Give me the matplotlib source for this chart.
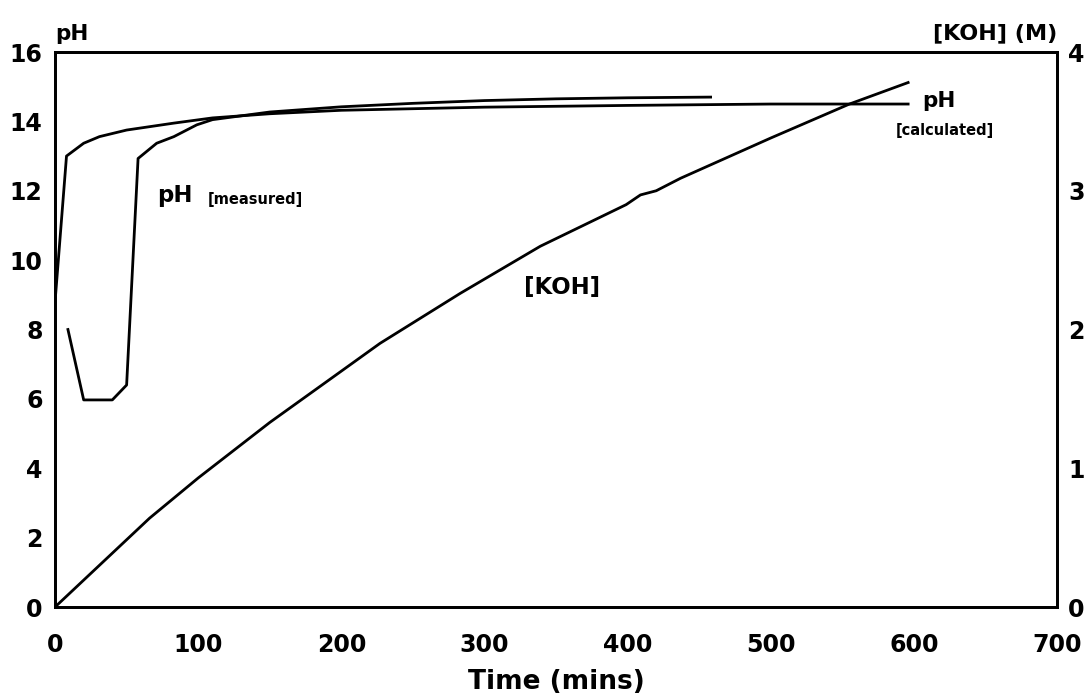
import matplotlib
matplotlib.use("Agg")
import matplotlib.pyplot as plt

plt.rcParams['font.family'] = ['DejaVu Sans']
plt.rcParams['font.weight'] = 'bold'

# pH (calculated) vs time
calc_time = [0, 8, 20, 31, 50, 83, 110, 150, 200, 300, 400, 500, 596]
calc_ph = [8.8, 13.0, 13.37, 13.56, 13.75, 13.95, 14.1, 14.22, 14.32, 14.41, 14.46, 14.5, 14.5]

# pH (measured) vs time
meas_time = [9, 20, 40, 50, 58, 71, 83, 99, 110, 150, 200, 250, 300, 350, 400, 458]
meas_ph = [8.0, 5.97, 5.97, 6.4, 12.93, 13.37, 13.56, 13.9, 14.05, 14.27, 14.42, 14.52, 14.6, 14.65, 14.68, 14.7]

# [KOH] (M) vs time
koh_time = [0, 66, 100, 150, 200, 227, 283, 339, 399, 409, 420, 437, 500, 555, 596]
koh_conc = [0.0, 0.64, 0.93, 1.33, 1.70, 1.90, 2.26, 2.60, 2.90, 2.97, 3.0, 3.09, 3.38, 3.625, 3.78]

x_ticks = [0, 100, 200, 300, 400, 500, 600, 700]
ph_ticks = [0, 2, 4, 6, 8, 10, 12, 14, 16]
koh_ticks = [0, 1, 2, 3, 4]

fig = plt.figure(figsize=(10.88, 6.99), dpi=100)
ax = fig.add_axes([0.0506, 0.1316, 0.9209, 0.7940])
ax2 = ax.twinx()

lw = 2.0
ax.plot(calc_time, calc_ph, color='black', lw=lw, solid_joinstyle='round')
ax.plot(meas_time, meas_ph, color='black', lw=lw, solid_joinstyle='round')
ax2.plot(koh_time, koh_conc, color='black', lw=lw, solid_joinstyle='round')

ax.set_xlim(0, 700)
ax.set_ylim(0, 16)
ax2.set_ylim(0, 4)

ax.set_xticks(x_ticks)
ax.set_yticks(ph_ticks)
ax2.set_yticks(koh_ticks)

ax.tick_params(axis='x', length=0, pad=19, labelsize=17)
ax.tick_params(axis='y', length=0, pad=9, labelsize=17)
ax2.tick_params(axis='y', length=0, pad=8, labelsize=17)
for lab in ax.get_xticklabels() + ax.get_yticklabels() + ax2.get_yticklabels():
    lab.set_fontweight('bold')

for a in (ax, ax2):
    for s in a.spines.values():
        s.set_linewidth(2.0)

ax.set_xlabel('Time (mins)', fontsize=19, fontweight='bold', labelpad=8)

# axis titles above the frame
ax.text(0.0, 1.015, 'pH', transform=ax.transAxes, ha='left', va='bottom',
        fontsize=15.5, fontweight='bold')
ax.text(1.0, 1.015, '[KOH] (M)', transform=ax.transAxes, ha='right', va='bottom',
        fontsize=16, fontweight='bold')

# curve labels
ax.text(71, 11.85, 'pH', fontsize=16.5, fontweight='bold', va='center', ha='left')
ax.text(107, 11.75, '[measured]', fontsize=10.5, fontweight='bold', va='center', ha='left')
ax.text(354, 9.2, '[KOH]', fontsize=16.5, fontweight='bold', va='center', ha='center')
ax.text(606, 14.6, 'pH', fontsize=15.5, fontweight='bold', va='center', ha='left')
ax.text(622, 13.75, '[calculated]', fontsize=10.5, fontweight='bold', va='center', ha='center')

fig.savefig('out.png', dpi=100, facecolor='white')
